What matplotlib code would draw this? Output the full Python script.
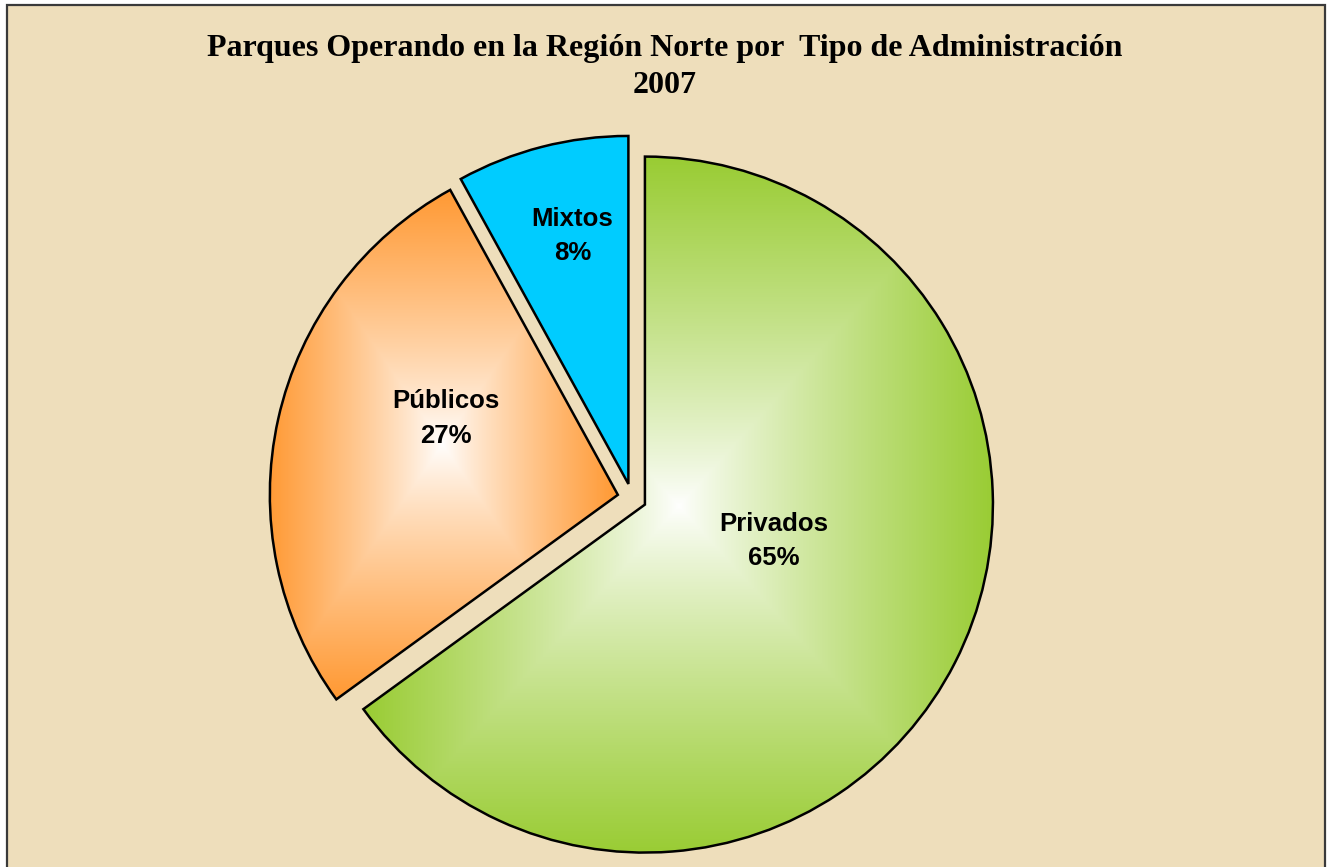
import numpy as np
import matplotlib
matplotlib.use("Agg")
import matplotlib.pyplot as plt
from matplotlib.patches import Rectangle
from matplotlib.colors import to_rgb

# data
categorias = ["Privados", "Públicos", "Mixtos"]
porcentajes = [65, 27, 8]
colores = ["#99CC33", "#FF9933", "#00CCFF"]
degradado = [True, True, False]
titulo = "Parques Operando en la Región Norte por  Tipo de Administración\n2007"

W, H = 1328, 867
fig = plt.figure(figsize=(W / 100, H / 100), dpi=100)
fig.patch.set_facecolor("white")
ax = fig.add_axes([0, 0, 1, 1])
ax.set_xlim(0, W)
ax.set_ylim(0, H)
ax.set_aspect("equal")
ax.axis("off")

# parchment panel with dark frame
ax.add_patch(Rectangle((7, -10), 1318, H - 5 + 10, facecolor="#EEDEBB",
                       edgecolor="#3a3a3a", lw=1.6, zorder=0))

cx, cy, r = 632, H - 498, 348
wedges, _ = ax.pie(porcentajes, colors=colores, startangle=90, counterclock=False,
                   center=(cx, cy), radius=r, explode=[14.5] * 3,
                   wedgeprops=dict(edgecolor="black", linewidth=1.8), frame=True)
ax.set_xlim(0, W)
ax.set_ylim(0, H)
ax.axis("off")

# "from center" gradient: white in the middle of each wedge box, colour at the edges
g = np.linspace(-1, 1, 400)
u, v = np.meshgrid(g, g)
t = np.clip(np.maximum(np.abs(u), np.abs(v)), 0, 1) ** 0.85
t = t[..., None]
for w, c, grad in zip(wedges, colores, degradado):
    w.set_zorder(3)
    if not grad:
        continue
    vx = w.get_path().vertices
    x0, y0 = vx.min(axis=0)
    x1, y1 = vx.max(axis=0)
    img = np.array(to_rgb(c)) * t + np.ones(3) * (1 - t)
    im = ax.imshow(img, extent=(x0, x1, y0, y1), origin="lower",
                   interpolation="bilinear", zorder=2, aspect="auto")
    im.set_clip_path(w)
    w.set_facecolor("none")

# labels inside the slices: (fraction of radius, angle in degrees)
pos_etiquetas = [(0.385, -15.8), (0.54, 156), (0.73, 102.7)]
for w, cat, p, (f, a) in zip(wedges, categorias, porcentajes, pos_etiquetas):
    wx, wy = w.center
    ax.text(wx + f * r * np.cos(np.radians(a)), wy + f * r * np.sin(np.radians(a)),
            f"{cat}\n{p}%", ha="center", va="center", fontsize=18.5,
            fontweight="bold", family="Liberation Sans", linespacing=1.55, zorder=5)

ax.text(665, H - 67, titulo, ha="center", va="center", fontsize=23,
        fontweight="bold", family="Liberation Serif", linespacing=1.4, zorder=5)

fig.savefig("out.png", dpi=100)
